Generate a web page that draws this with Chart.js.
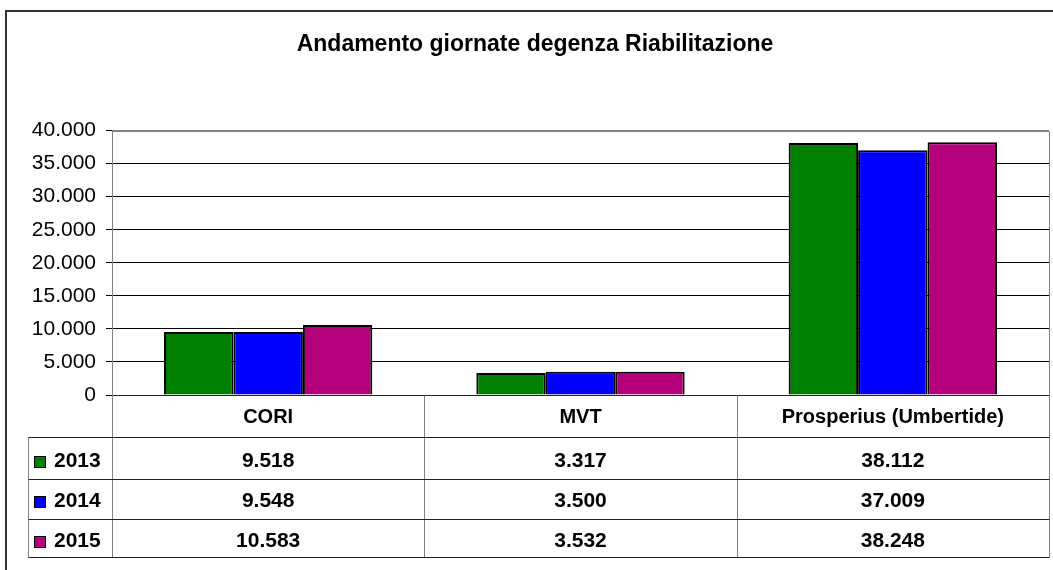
<!DOCTYPE html>
<html>
<head>
<meta charset="utf-8">
<script src="https://cdn.jsdelivr.net/npm/chart.js@4.4.0/dist/chart.umd.min.js"></script>
<style>
  html, body { margin: 0; padding: 0; background: #ffffff; }
  #wrap { width: 1053px; height: 570px; position: relative; }
</style>
</head>
<body>
<div id="wrap"><canvas id="c" width="1053" height="570"></canvas></div>
<script>
// ---- data ----
const chartTitle = 'Andamento giornate degenza Riabilitazione';
const categories = ['CORI', 'MVT', 'Prosperius (Umbertide)'];
const years = ['2013', '2014', '2015'];
const values2013 = [9518, 3317, 38112];
const values2014 = [9548, 3500, 37009];
const values2015 = [10583, 3532, 38248];
const yMin = 0;
const yMax = 40000;
const yStep = 5000;

// ---- helpers ----
function fmt(v) {
  return String(Math.round(v)).replace(/\B(?=(\d{3})+(?!\d))/g, '.');
}
const FONT = "'Liberation Sans', Arial, Helvetica, sans-serif";
const seriesColors = ['#008000', '#0000FF', '#B5007C'];
const seriesValues = [values2013, values2014, values2015];

const frameAndTable = {
  id: 'frameAndTable',
  beforeDraw(chart) {
    const ctx = chart.ctx;
    ctx.save();
    ctx.fillStyle = '#ffffff';
    ctx.fillRect(0, 0, chart.width, chart.height);
    ctx.restore();
  },
  afterDraw(chart) {
    const ctx = chart.ctx;
    const ca = chart.chartArea;
    const xs = chart.scales.x;
    const n = chart.data.labels.length;
    const cw = (ca.right - ca.left) / n;
    const base = ca.bottom;
    const rowLines = [base + 42, base + 84, base + 124, base + 162];
    const rowCenters = [base + 65, base + 105, base + 145];
    const legendLeft = 28;
    const tableBottom = rowLines[rowLines.length - 1];
    const a = (p) => Math.round(p) + 0.5;

    ctx.save();
    // outer frame (left & top edges visible)
    ctx.strokeStyle = '#333333';
    ctx.lineWidth = 2;
    ctx.strokeRect(6, 11, 1200, 700);

    // plot area border (gray) top & right
    ctx.lineWidth = 1;
    ctx.strokeStyle = '#808080';
    ctx.beginPath();
    ctx.moveTo(a(ca.left), a(ca.top));
    ctx.lineTo(a(ca.right), a(ca.top));
    ctx.lineTo(a(ca.right), a(tableBottom));
    ctx.stroke();

    // vertical dividers in the table
    ctx.beginPath();
    for (let i = 0; i < n; i++) {
      const x = a(ca.left + i * cw);
      ctx.moveTo(x, a(base));
      ctx.lineTo(x, a(tableBottom));
    }
    ctx.moveTo(a(legendLeft), a(rowLines[0]));
    ctx.lineTo(a(legendLeft), a(tableBottom));
    ctx.stroke();

    // horizontal table lines
    ctx.strokeStyle = '#222222';
    ctx.beginPath();
    rowLines.forEach(y => {
      ctx.moveTo(a(legendLeft), a(y));
      ctx.lineTo(a(ca.right), a(y));
    });
    ctx.stroke();

    // legend keys + year labels + values
    ctx.textBaseline = 'middle';
    chart.data.datasets.forEach((ds, r) => {
      const cy = rowCenters[r] + 1;
      ctx.fillStyle = ds.backgroundColor;
      ctx.fillRect(34, Math.round(cy) - 5, 12, 12);
      ctx.strokeStyle = '#000000';
      ctx.lineWidth = 1;
      ctx.strokeRect(34.5, Math.round(cy) - 4.5, 11, 11);
      ctx.fillStyle = '#000000';
      ctx.font = 'bold 21px ' + FONT;
      ctx.textAlign = 'left';
      ctx.fillText(ds.label, 54, cy);
      ctx.textAlign = 'center';
      ds.data.forEach((v, i) => {
        ctx.fillText(fmt(v), xs.getPixelForValue(i), cy);
      });
    });
    ctx.restore();
  }
};

new Chart(document.getElementById('c'), {
  type: 'bar',
  data: {
    labels: categories,
    datasets: years.map((y, i) => ({
      label: y,
      data: seriesValues[i],
      backgroundColor: seriesColors[i],
      borderColor: '#000000',
      borderWidth: 2,
      borderSkipped: 'bottom',
      categoryPercentage: 0.667,
      barPercentage: 1.0
    }))
  },
  options: {
    responsive: false,
    animation: false,
    devicePixelRatio: 1,
    layout: { padding: { left: 21, right: 4, top: 0, bottom: 133 } },
    plugins: {
      legend: { display: false },
      tooltip: { enabled: false },
      title: {
        display: true,
        text: chartTitle,
        color: '#000000',
        font: { family: FONT, size: 23, weight: 'bold', lineHeight: 1.2 },
        padding: { top: 31, bottom: 72 }
      }
    },
    scales: {
      x: {
        grid: { display: false, drawTicks: false },
        border: { display: true, color: '#222222', width: 1 },
        ticks: {
          color: '#000000',
          font: { family: FONT, size: 20, weight: 'bold' },
          padding: 10,
          maxRotation: 0,
          autoSkip: false
        },
        afterFit(scale) { scale.height = 42; }
      },
      y: {
        min: yMin,
        max: yMax,
        ticks: {
          stepSize: yStep,
          color: '#000000',
          font: { family: FONT, size: 21 },
          padding: 10,
          callback: (v) => fmt(v)
        },
        grid: {
          color: (c) => (c.tick && c.tick.value === yMax ? '#808080' : '#000000'),
          lineWidth: 1, tickColor: '#000000', tickLength: 6, drawTicks: true
        },
        border: { display: true, color: '#808080', width: 1 },
        afterFit(scale) { scale.width = 91; }
      }
    }
  },
  plugins: [frameAndTable]
});
</script>
</body>
</html>
